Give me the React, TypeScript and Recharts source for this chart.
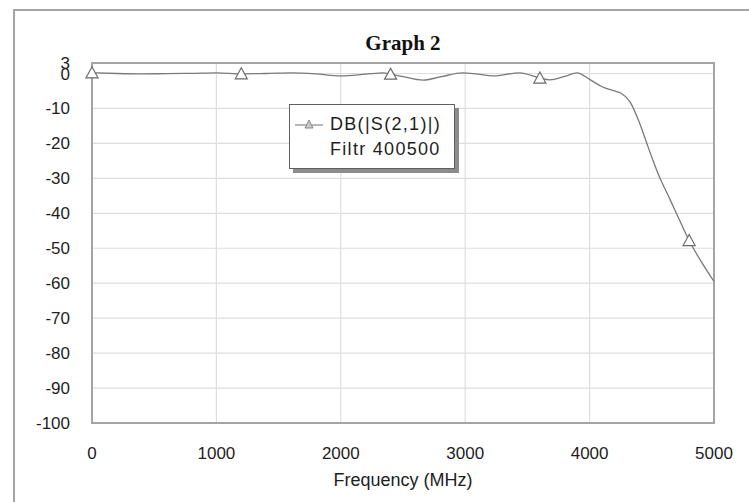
import React from 'react'
import {
  LineChart,
  Line,
  XAxis,
  YAxis,
  CartesianGrid,
  ReferenceArea,
  Legend,
} from 'recharts'

// S21 trace (MHz / dB)
const freqs = [
  0, 200, 400, 600, 800, 1000, 1200, 1400, 1600, 1800, 2000, 2200, 2340, 2400,
  2500, 2660, 2800, 2980, 3100, 3220, 3440, 3600, 3680, 3800, 3900, 4000, 4100,
  4200, 4250, 4325, 4400, 4470, 4550, 4650, 4740, 4800, 4890, 5000,
]
const s21 = [
  0.2, 0.0, -0.1, -0.05, 0.05, 0.2, -0.1, 0.0, 0.2, -0.1, -0.7, -0.2, 0.2, -0.2,
  -0.9, -1.9, -1.0, 0.2, -0.2, -0.7, 0.2, -1.3, -1.8, -0.8, 0.2, -1.7, -3.8,
  -5.0, -5.6, -8.1, -14.0, -21.0, -28.6, -36.3, -43.3, -47.8, -53.4, -59.5,
]
const markerFreqs = [0, 1200, 2400, 3600, 4800]
const xTicks = [0, 1000, 2000, 3000, 4000, 5000]
const yTicks = [3, 0, -10, -20, -30, -40, -50, -60, -70, -80, -90, -100]

const data = freqs.map((f, i) => ({ freq: f, db: s21[i] }))

const LINE = '#7a7a7a'
const MARK = '#6a6a6a'
const GRID = '#dedede'
const FRAME = '#a4a4a4'
const TEXT = '#1e1e1e'

function TriangleDot(props: any) {
  const { cx, cy, payload, index } = props
  if (!markerFreqs.includes(payload.freq)) return <g key={`d-${index}`} />
  return (
    <polygon
      key={`d-${index}`}
      points={`${cx},${cy - 6} ${cx - 6},${cy + 5} ${cx + 6},${cy + 5}`}
      fill="#ffffff"
      stroke={MARK}
      strokeWidth={1.2}
    />
  )
}

function LegendBox() {
  return (
    <div
      style={{
        width: 164,
        height: 63,
        background: '#ffffff',
        border: '1px solid #606060',
        boxShadow: '4px 4px 0 #8c8c8c',
        position: 'relative',
        fontFamily: '"Liberation Sans", Arial, sans-serif',
        fontSize: 18,
        letterSpacing: 1.3,
        color: TEXT,
      }}
    >
      <svg width={34} height={20} style={{ position: 'absolute', left: 5, top: 10 }}>
        <line x1={0} y1={10} x2={28} y2={10} stroke="#888" strokeWidth={1.2} />
        <polygon points="14,5 10,13 18,13" fill="#c8c8c8" stroke="#888" strokeWidth={1} />
      </svg>
      <div style={{ position: 'absolute', left: 40, top: 8, lineHeight: '22px' }}>DB(|S(2,1)|)</div>
      <div style={{ position: 'absolute', left: 40, top: 33, lineHeight: '22px' }}>Filtr 400500</div>
    </div>
  )
}

export default function App() {
  return (
    <div
      style={{
        position: 'absolute',
        left: 0,
        top: 0,
        width: 749,
        height: 502,
        overflow: 'hidden',
        background: '#ffffff',
      }}
    >
      <div
        style={{
          position: 'absolute',
          left: 13,
          top: 9,
          width: 900,
          height: 700,
          borderTop: `2px solid ${FRAME}`,
          borderLeft: `2px solid ${FRAME}`,
        }}
      />
      <div
        style={{
          position: 'absolute',
          left: 303,
          top: 30,
          width: 200,
          textAlign: 'center',
          fontFamily: '"Liberation Serif", "Times New Roman", serif',
          fontWeight: 'bold',
          fontSize: 21,
          color: '#111',
          lineHeight: '26px',
        }}
      >
        Graph 2
      </div>
      <div style={{ position: 'absolute', left: 0, top: 0 }}>
        <LineChart
          width={749}
          height={502}
          data={data}
          margin={{ top: 63, right: 35, bottom: 0, left: 0 }}
        >
          <CartesianGrid stroke={GRID} strokeWidth={1.2} horizontalValues={yTicks} verticalValues={xTicks} />
          <XAxis
            dataKey="freq"
            type="number"
            domain={[0, 5000]}
            ticks={xTicks}
            height={79}
            axisLine={false}
            tickLine={false}
            tickSize={0}
            tickMargin={24}
            tick={{ fill: TEXT, fontSize: 17, fontFamily: '"Liberation Sans", Arial, sans-serif' }}
            label={{
              value: 'Frequency (MHz)',
              position: 'insideBottom',
              offset: 16,
              fill: TEXT,
              fontSize: 18,
              fontFamily: '"Liberation Sans", Arial, sans-serif',
            }}
          />
          <YAxis
            type="number"
            domain={[-100, 3]}
            ticks={yTicks}
            interval={0}
            width={92}
            axisLine={false}
            tickLine={false}
            tickSize={0}
            tickMargin={22}
            tick={{ fill: TEXT, fontSize: 17, fontFamily: '"Liberation Sans", Arial, sans-serif' }}
          />
          <ReferenceArea
            x1={0}
            x2={5000}
            y1={-100}
            y2={3}
            fill="none"
            stroke={FRAME}
            strokeWidth={2}
            ifOverflow="visible"
          />
          <Legend
            layout="horizontal"
            verticalAlign="middle"
            align="center"
            content={() => <LegendBox />}
            wrapperStyle={{ position: 'absolute', left: 289, top: 104, width: 'auto', height: 'auto' }}
          />
          <Line
            type="monotone"
            dataKey="db"
            stroke={LINE}
            strokeWidth={1.3}
            dot={TriangleDot}
            activeDot={false}
            isAnimationActive={false}
          />
        </LineChart>
      </div>
    </div>
  )
}
